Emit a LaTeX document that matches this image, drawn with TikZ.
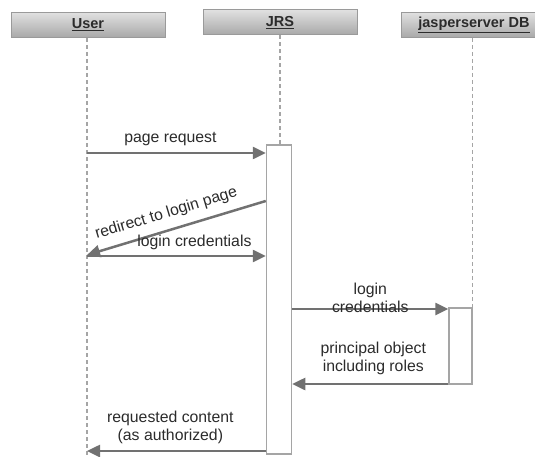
\documentclass[tikz,border=0pt]{standalone}
\usepackage{fontspec}
\setmainfont{Liberation Sans}
\usetikzlibrary{arrows.meta}
\definecolor{arr}{HTML}{717171}
\definecolor{lfl}{HTML}{A5A5A5}
\definecolor{hdrb}{HTML}{9A9A9A}
\definecolor{hdrt}{HTML}{E0E0E0}
\definecolor{hdrbot}{HTML}{A8A8A8}
\definecolor{txt}{HTML}{2B2B2B}
\begin{document}
\begin{tikzpicture}[x=1pt,y=-1pt,
 hdr/.style={draw=hdrb, line width=1pt, top color=hdrt, bottom color=hdrbot, minimum height=25pt, inner sep=0pt, font=\fontsize{14.5}{17}\selectfont\bfseries, text=txt},
 life/.style={draw=lfl, line width=1.3pt, dash pattern=on 4pt off 3pt},
 act/.style={draw=lfl, line width=1.5pt, fill=white, inner sep=0pt},
 msg/.style={draw=arr, line width=2.5pt, -{Triangle[length=13pt,width=12pt]}},
 lbl/.style={font=\fontsize{15.8}{18}\selectfont, text=txt, align=center, inner sep=1pt}]
\useasboundingbox (0,0) rectangle (535,457);
\node[hdr, minimum width=154pt] (user) at (88,25) {\underline{User}};
\node[hdr, minimum width=154pt] (jrs) at (280,22.5) {\underline{JRS}};
\node[hdr, minimum width=146pt] (db) at (474,25) {\underline{jasperserver DB}};
\coordinate (uend) at (87,457);
\draw[life] (user.south -| uend) -- (uend);
\node[act, minimum width=25pt, minimum height=309pt] (jact) at (279,299.5) {};
\node[act, minimum width=23pt, minimum height=76pt] (dact) at (460.5,346) {};
\draw[life] (jrs.south) -- (jrs.south |- jact.north);
\draw[life] (db.south -| dact.east) -- (dact.north east);
% messages
\coordinate (u1) at (87,153);
\draw[msg] (u1) -- node[lbl, above=5pt, xshift=-6pt]{page request} (jact.west |- u1);
\coordinate (u2) at (87,255);
\coordinate (y2) at (0,201);
\draw[msg] (jact.west |- y2) -- node[lbl, pos=0.53, sloped, above=7pt]{redirect to login page} (u2);
\coordinate (u3) at (87,256);
\draw[msg] (u3) -- node[lbl, above=4pt, xshift=18pt]{login credentials} (jact.west |- u3);
\coordinate (y4) at (0,309);
\draw[msg] (jact.east |- y4) -- node[lbl, yshift=11pt]{login\\credentials} (dact.west |- y4);
\coordinate (y5) at (0,384);
\draw[msg] (dact.west |- y5) -- node[lbl, above=7pt, xshift=3pt]{principal object\\including roles} (jact.east |- y5);
\coordinate (u6) at (87,451);
\draw[msg] (jact.west |- u6) -- node[lbl, above=5pt, xshift=-6pt]{requested content\\(as authorized)} (u6);
\end{tikzpicture}
\end{document}
